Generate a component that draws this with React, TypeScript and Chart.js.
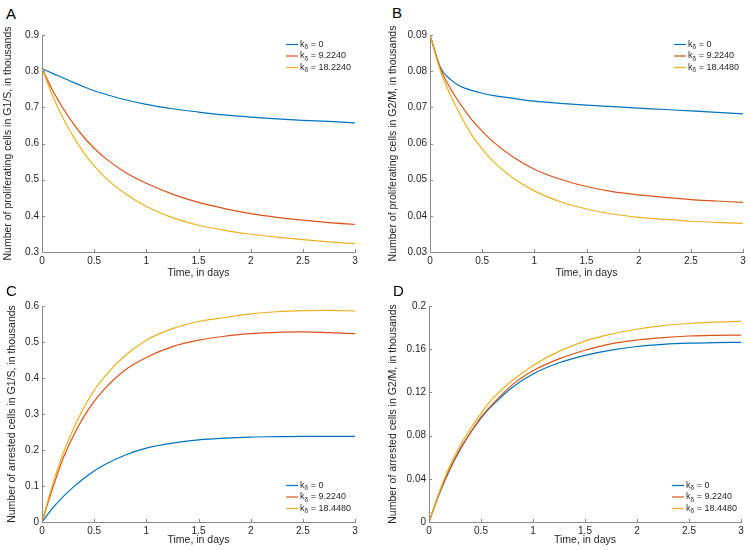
import React, { useEffect, useRef } from "react";
import { Chart, registerables } from "chart.js";

Chart.register(...registerables);

const FONT = "'Liberation Sans', Arial, Helvetica, sans-serif";
const BLUE = "#0072BD";
const RED = "#D95319";
const YELLOW = "#EDB120";
const AXIS = "#8a8a8a";
const TEXT = "#262626";

// ---- data ----
const times = [0, 0.1, 0.2, 0.3, 0.4, 0.5, 0.6, 0.8, 1, 1.25, 1.5, 1.75, 2, 2.25, 2.5, 2.75, 3];
const timeTicks = [0, 0.5, 1, 1.5, 2, 2.5, 3];
const timeTickLabels = ["0", "0.5", "1", "1.5", "2", "2.5", "3"];

const aTicks = [0.3, 0.4, 0.5, 0.6, 0.7, 0.8, 0.9];
const aTickLabels = ["0.3", "0.4", "0.5", "0.6", "0.7", "0.8", "0.9"];
const bTicks = [0.03, 0.04, 0.05, 0.06, 0.07, 0.08, 0.09];
const bTickLabels = ["0.03", "0.04", "0.05", "0.06", "0.07", "0.08", "0.09"];
const cTicks = [0, 0.1, 0.2, 0.3, 0.4, 0.5, 0.6];
const cTickLabels = ["0", "0.1", "0.2", "0.3", "0.4", "0.5", "0.6"];
const dTicks = [0, 0.04, 0.08, 0.12, 0.16, 0.2];
const dTickLabels = ["0", "0.04", "0.08", "0.12", "0.16", "0.2"];

const legendA = ["0", "9.2240", "18.2240"];
const legendOther = ["0", "9.2240", "18.4480"];

// Panel A: proliferating G1/S
const aBlue = [0.807, 0.794, 0.782, 0.769, 0.757, 0.746, 0.737, 0.721, 0.708, 0.696, 0.687, 0.679, 0.673, 0.668, 0.664, 0.661, 0.657];
const aRed = [0.807, 0.748, 0.698, 0.655, 0.618, 0.587, 0.561, 0.52, 0.49, 0.46, 0.437, 0.42, 0.406, 0.396, 0.388, 0.381, 0.376];
const aYellow = [0.807, 0.733, 0.671, 0.619, 0.575, 0.538, 0.507, 0.461, 0.426, 0.395, 0.374, 0.36, 0.349, 0.341, 0.334, 0.328, 0.323];

// Panel B: proliferating G2/M
const bBlue = [0.09, 0.081, 0.0776, 0.0757, 0.0747, 0.0739, 0.0733, 0.0725, 0.0717, 0.0711, 0.0706, 0.0702, 0.0698, 0.0694, 0.069, 0.0686, 0.0682];
const bRed = [0.09, 0.0807, 0.075, 0.0705, 0.0666, 0.0634, 0.0606, 0.0562, 0.0529, 0.0501, 0.0481, 0.0467, 0.0458, 0.0451, 0.0445, 0.0441, 0.0437];
const bYellow = [0.09, 0.0801, 0.0731, 0.0674, 0.0624, 0.0585, 0.0552, 0.0504, 0.0469, 0.0439, 0.0419, 0.0405, 0.0396, 0.039, 0.0385, 0.0382, 0.0379];

// Panel C: arrested G1/S
const cBlue = [0, 0.038, 0.07, 0.097, 0.121, 0.142, 0.159, 0.186, 0.205, 0.219, 0.228, 0.233, 0.236, 0.237, 0.238, 0.238, 0.238];
const cRed = [0, 0.092, 0.175, 0.239, 0.292, 0.335, 0.37, 0.423, 0.457, 0.487, 0.505, 0.516, 0.523, 0.527, 0.528, 0.526, 0.523];
const cYellow = [0, 0.103, 0.188, 0.258, 0.317, 0.366, 0.404, 0.463, 0.505, 0.537, 0.557, 0.568, 0.578, 0.584, 0.587, 0.588, 0.586];

// Panel D: arrested G2/M
const dBlue = [0, 0.0264, 0.0485, 0.0672, 0.0829, 0.0962, 0.107, 0.1246, 0.137, 0.1474, 0.1543, 0.1592, 0.1625, 0.1645, 0.1656, 0.1661, 0.1663];
const dRed = [0, 0.027, 0.049, 0.068, 0.083, 0.097, 0.108, 0.127, 0.14, 0.151, 0.159, 0.165, 0.1685, 0.1708, 0.1722, 0.1728, 0.1731];
const dYellow = [0, 0.028, 0.052, 0.071, 0.0866, 0.1005, 0.113, 0.131, 0.145, 0.158, 0.1675, 0.174, 0.1785, 0.1818, 0.1838, 0.185, 0.1858];

type PanelCfg = {
  key: string;
  left: number;
  top: number;
  width: number;
  height: number;
  padLeft: number;
  padTop: number;
  padRight: number;
  yWidth: number;
  xHeight: number;
  titlePadTop: number;
  xTitlePadBottom: number;
  yTitle: string;
  yTicks: number[];
  yLabels: string[];
  series: number[][];
  legend: string[];
  legendPos: "top" | "bottom";
};

const panels: PanelCfg[] = [
  {
    key: "A", left: 0, top: 25, width: 375, height: 255,
    padLeft: 0, padTop: 10, padRight: 20, yWidth: 42, xHeight: 28, titlePadTop: 2, xTitlePadBottom: 1,
    yTitle: "Number of proliferating cells in G1/S, in thousands",
    yTicks: aTicks, yLabels: aTickLabels, series: [aBlue, aRed, aYellow],
    legend: legendA, legendPos: "top",
  },
  {
    key: "B", left: 375, top: 25, width: 375, height: 255,
    padLeft: 8, padTop: 10, padRight: 7, yWidth: 47, xHeight: 28, titlePadTop: 4, xTitlePadBottom: 1,
    yTitle: "Number of proliferating cells in G2/M, in thousands",
    yTicks: bTicks, yLabels: bTickLabels, series: [bBlue, bRed, bYellow],
    legend: legendOther, legendPos: "top",
  },
  {
    key: "C", left: 0, top: 296, width: 375, height: 254,
    padLeft: 2, padTop: 10, padRight: 20, yWidth: 40, xHeight: 28, titlePadTop: 4, xTitlePadBottom: 4,
    yTitle: "Number of arrested cells in G1/S, in thousands",
    yTicks: cTicks, yLabels: cTickLabels, series: [cBlue, cRed, cYellow],
    legend: legendOther, legendPos: "bottom",
  },
  {
    key: "D", left: 375, top: 296, width: 375, height: 254,
    padLeft: 8, padTop: 10, padRight: 9, yWidth: 46, xHeight: 28, titlePadTop: 4, xTitlePadBottom: 4,
    yTitle: "Number of arrested cells in G2/M, in thousands",
    yTicks: dTicks, yLabels: dTickLabels, series: [dBlue, dRed, dYellow],
    legend: legendOther, legendPos: "bottom",
  },
];

const inwardTicks = {
  id: "inwardTicks",
  afterDraw(chart: any) {
    const { ctx, chartArea, scales } = chart;
    ctx.save();
    ctx.strokeStyle = AXIS;
    ctx.lineWidth = 1;
    ctx.beginPath();
    scales.x.ticks.forEach((t: any) => {
      const px = Math.round(scales.x.getPixelForValue(t.value)) + 0.5;
      ctx.moveTo(px, chartArea.bottom);
      ctx.lineTo(px, chartArea.bottom - 3);
    });
    scales.y.ticks.forEach((t: any) => {
      const py = Math.round(scales.y.getPixelForValue(t.value)) + 0.5;
      ctx.moveTo(chartArea.left, py);
      ctx.lineTo(chartArea.left + 3, py);
    });
    ctx.stroke();
    ctx.restore();
  },
};

const kdLegend = {
  id: "kdLegend",
  afterDatasetsDraw(chart: any, _args: any, opts: any) {
    const { ctx, chartArea } = chart;
    const values: string[] = opts.values || [];
    const main = `9px ${FONT}`;
    const sub = `6.5px ${FONT}`;
    ctx.save();
    const widths = values.map((v) => {
      ctx.font = main;
      const wk = ctx.measureText("k").width;
      const wr = ctx.measureText(" = " + v).width;
      ctx.font = sub;
      const ws = ctx.measureText("δ").width;
      return { wk, ws, wr, total: wk + ws + wr };
    });
    const maxW = Math.max(...widths.map((w) => w.total));
    const textX = chartArea.right - 4 - maxW;
    const lineX0 = textX - 2 - 12;
    const gap = 11.5;
    const n = values.length;
    chart.data.datasets.forEach((ds: any, i: number) => {
      const y = opts.pos === "top"
        ? chartArea.top + 9.5 + i * gap
        : chartArea.bottom - 13.5 - (n - 1 - i) * gap;
      ctx.strokeStyle = ds.borderColor;
      ctx.lineWidth = 1.2;
      ctx.beginPath();
      ctx.moveTo(lineX0, y);
      ctx.lineTo(lineX0 + 12, y);
      ctx.stroke();
      ctx.fillStyle = TEXT;
      ctx.textBaseline = "middle";
      ctx.textAlign = "left";
      let x = textX;
      ctx.font = main;
      ctx.fillText("k", x, y);
      x += widths[i].wk;
      ctx.font = sub;
      ctx.fillText("δ", x, y + 3);
      x += widths[i].ws;
      ctx.font = main;
      ctx.fillText(" = " + values[i], x, y);
    });
    ctx.restore();
  },
};

function Panel({ cfg }: { cfg: PanelCfg }) {
  const ref = useRef<HTMLCanvasElement | null>(null);
  useEffect(() => {
    if (!ref.current) return;
    const colors = [BLUE, RED, YELLOW];
    const orders = [2, 1, 0];
    const chart = new Chart(ref.current, {
      type: "line",
      data: {
        datasets: cfg.series.map((vals, i) => ({
          label: cfg.legend[i],
          data: times.map((t, j) => ({ x: t, y: vals[j] })),
          borderColor: colors[i],
          backgroundColor: colors[i],
          borderWidth: 1.2,
          pointRadius: 0,
          fill: false,
          cubicInterpolationMode: "monotone" as const,
          order: orders[i],
        })),
      },
      plugins: [inwardTicks, kdLegend],
      options: {
        animation: false,
        responsive: false,
        devicePixelRatio: 1,
        events: [],
        layout: { padding: { left: cfg.padLeft, top: cfg.padTop, right: cfg.padRight, bottom: 0 } },
        plugins: {
          legend: { display: false },
          tooltip: { enabled: false },
          kdLegend: { values: cfg.legend, pos: cfg.legendPos },
        } as any,
        scales: {
          x: {
            type: "linear",
            min: 0,
            max: 3,
            grid: { display: false, drawTicks: false },
            border: { display: true, color: AXIS, width: 1 },
            afterBuildTicks: (s: any) => { s.ticks = timeTicks.map((v) => ({ value: v })); },
            afterFit: (s: any) => { s.height = cfg.xHeight; },
            ticks: {
              color: TEXT,
              font: { family: FONT, size: 10 },
              padding: 3,
              maxRotation: 0,
              autoSkip: false,
              callback: (_v: any, i: number) => timeTickLabels[i],
            },
            title: {
              display: true,
              text: "Time, in days",
              color: TEXT,
              font: { family: FONT, size: 10.5 },
              padding: { top: 4, bottom: cfg.xTitlePadBottom },
            },
          },
          y: {
            type: "linear",
            min: cfg.yTicks[0],
            max: cfg.yTicks[cfg.yTicks.length - 1],
            grid: { display: false, drawTicks: false },
            border: { display: true, color: AXIS, width: 1 },
            afterBuildTicks: (s: any) => { s.ticks = cfg.yTicks.map((v) => ({ value: v })); },
            afterFit: (s: any) => { s.width = cfg.yWidth; },
            ticks: {
              color: TEXT,
              font: { family: FONT, size: 10 },
              padding: 3,
              autoSkip: false,
              callback: (_v: any, i: number) => cfg.yLabels[i],
            },
            title: {
              display: true,
              text: cfg.yTitle,
              color: TEXT,
              font: { family: FONT, size: 10.5 },
              padding: { top: cfg.titlePadTop, bottom: 4 },
            },
          },
        },
      } as any,
    });
    return () => chart.destroy();
  }, [cfg]);
  return (
    <canvas
      ref={ref}
      width={cfg.width}
      height={cfg.height}
      style={{ position: "absolute", left: cfg.left, top: cfg.top, width: cfg.width, height: cfg.height }}
    />
  );
}

const letters = [
  { t: "A", x: 6, y: 6 },
  { t: "B", x: 392, y: 5 },
  { t: "C", x: 6, y: 283 },
  { t: "D", x: 393, y: 283 },
];

export default function App() {
  return (
    <div
      style={{
        position: "fixed",
        left: 0,
        top: 0,
        width: 750,
        height: 550,
        background: "#ffffff",
        overflow: "hidden",
      }}
    >
      {panels.map((p) => (
        <Panel key={p.key} cfg={p} />
      ))}
      {letters.map((l) => (
        <div
          key={l.t}
          style={{
            position: "absolute",
            left: l.x,
            top: l.y,
            fontFamily: FONT,
            fontSize: 15,
            lineHeight: "15px",
            color: "#000",
          }}
        >
          {l.t}
        </div>
      ))}
    </div>
  );
}
